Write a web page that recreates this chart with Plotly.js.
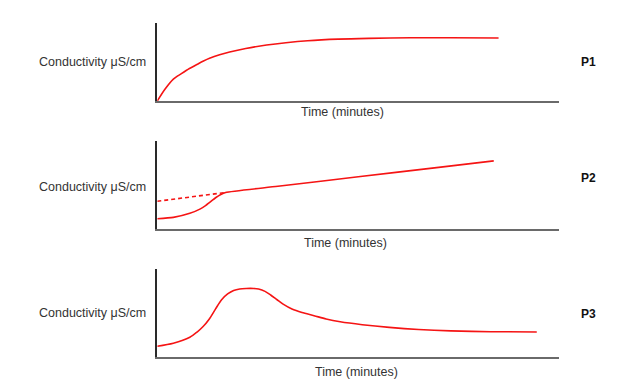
<!DOCTYPE html>
<html>
<head>
<meta charset="utf-8">
<script src="https://cdn.plot.ly/plotly-3.0.1.min.js"></script>
<style>
html,body{margin:0;padding:0;background:#fff;}
#chart{width:643px;height:383px;}
</style>
</head>
<body>
<div id="chart"></div>
<script>
// Time as fraction of the drawn axis length, conductivity as fraction of axis height
var p1Time = [0, 0.019, 0.04, 0.06, 0.08, 0.1, 0.115, 0.13, 0.155, 0.18, 0.22, 0.272, 0.32, 0.374, 0.45, 0.526, 0.63, 0.73, 0.849];
var p1Cond = [0, 0.15, 0.28, 0.35, 0.415, 0.47, 0.51, 0.545, 0.59, 0.625, 0.67, 0.715, 0.745, 0.77, 0.79, 0.80, 0.807, 0.808, 0.805];

var p2Time = [0, 0.04, 0.081, 0.106, 0.12, 0.131, 0.145, 0.158, 0.17, 0.3, 0.5, 0.7, 0.837];
var p2Cond = [0.117, 0.132, 0.178, 0.226, 0.265, 0.305, 0.355, 0.392, 0.415, 0.485, 0.593, 0.70, 0.774];
var p2ExtrapTime = [0, 0.17];
var p2ExtrapCond = [0.315, 0.415];

var p3Time = [0, 0.04, 0.081, 0.099, 0.114, 0.129, 0.145, 0.16, 0.175, 0.19, 0.205, 0.221, 0.24, 0.252, 0.268, 0.282, 0.298, 0.313, 0.335, 0.36, 0.39, 0.42, 0.455, 0.51, 0.577, 0.65, 0.73, 0.83, 0.944];
var p3Cond = [0.125, 0.159, 0.227, 0.287, 0.35, 0.433, 0.55, 0.655, 0.72, 0.76, 0.777, 0.782, 0.782, 0.775, 0.749, 0.708, 0.654, 0.604, 0.549, 0.509, 0.473, 0.435, 0.403, 0.37, 0.34, 0.316, 0.30, 0.291, 0.288];

var yLabel = 'Conductivity \u03bcS/cm';
var xLabel = 'Time (minutes)';
var panelNames = ['P1', 'P2', 'P3'];

var red = 'rgb(245,20,20)';
var traces = [
  {x: p1Time, y: p1Cond, xaxis: 'x', yaxis: 'y', mode: 'lines', line: {color: red, width: 1.6, shape: 'spline', smoothing: 0.8}},
  {x: p2Time, y: p2Cond, xaxis: 'x2', yaxis: 'y2', mode: 'lines', line: {color: red, width: 1.6, shape: 'spline', smoothing: 0.6}},
  {x: p2ExtrapTime, y: p2ExtrapCond, xaxis: 'x2', yaxis: 'y2', mode: 'lines', line: {color: red, width: 1.6, dash: '4px,3px'}},
  {x: p3Time, y: p3Cond, xaxis: 'x3', yaxis: 'y3', mode: 'lines', line: {color: red, width: 1.6, shape: 'spline', smoothing: 0.8}}
];

function xax(anchor) {
  return {domain: [0.2446, 0.8698], range: [0, 1], anchor: anchor, showline: true, linecolor: '#6a6a6a', linewidth: 2,
          showgrid: false, zeroline: false, showticklabels: false, ticks: '', fixedrange: true};
}
function yax(anchor, dom) {
  return {domain: dom, range: [0, 1], anchor: anchor, showline: true, linecolor: '#2a2a2a', linewidth: 2,
          showgrid: false, zeroline: false, showticklabels: false, ticks: '', fixedrange: true};
}

var txtFont = {family: 'Liberation Sans, Arial, sans-serif', size: 12.5, color: '#333333'};
var pFont = {family: 'Liberation Sans, Arial, sans-serif', size: 12, color: '#111111', weight: 'bold'};

var yLabelPos = [62, 187.5, 313];
var xLabelPos = [[342, 111.7], [346, 242.5], [356, 371.7]];
var pPos = [62.5, 177.5, 313.7];

var annotations = [];
for (var i = 0; i < 3; i++) {
  annotations.push({xref: 'paper', yref: 'paper', x: 92 / 643, y: 1 - yLabelPos[i] / 383, text: yLabel,
    showarrow: false, xanchor: 'center', yanchor: 'middle', font: txtFont});
  annotations.push({xref: 'paper', yref: 'paper', x: xLabelPos[i][0] / 643, y: 1 - xLabelPos[i][1] / 383, text: xLabel,
    showarrow: false, xanchor: 'center', yanchor: 'middle', font: txtFont});
  annotations.push({xref: 'paper', yref: 'paper', x: 588.5 / 643, y: 1 - pPos[i] / 383, text: '<b>' + panelNames[i] + '</b>',
    showarrow: false, xanchor: 'center', yanchor: 'middle', font: pFont});
}

var layout = {
  width: 643, height: 383,
  margin: {l: 0, r: 0, t: 0, b: 0},
  paper_bgcolor: '#ffffff', plot_bgcolor: '#ffffff',
  showlegend: false,
  xaxis: xax('y'), yaxis: yax('x', [0.7363, 0.9407]),
  xaxis2: xax('y2'), yaxis2: yax('x2', [0.4021, 0.6319]),
  xaxis3: xax('y3'), yaxis3: yax('x3', [0.0671, 0.2969]),
  annotations: annotations
};

Plotly.newPlot('chart', traces, layout, {displayModeBar: false, staticPlot: true});
</script>
</body>
</html>
